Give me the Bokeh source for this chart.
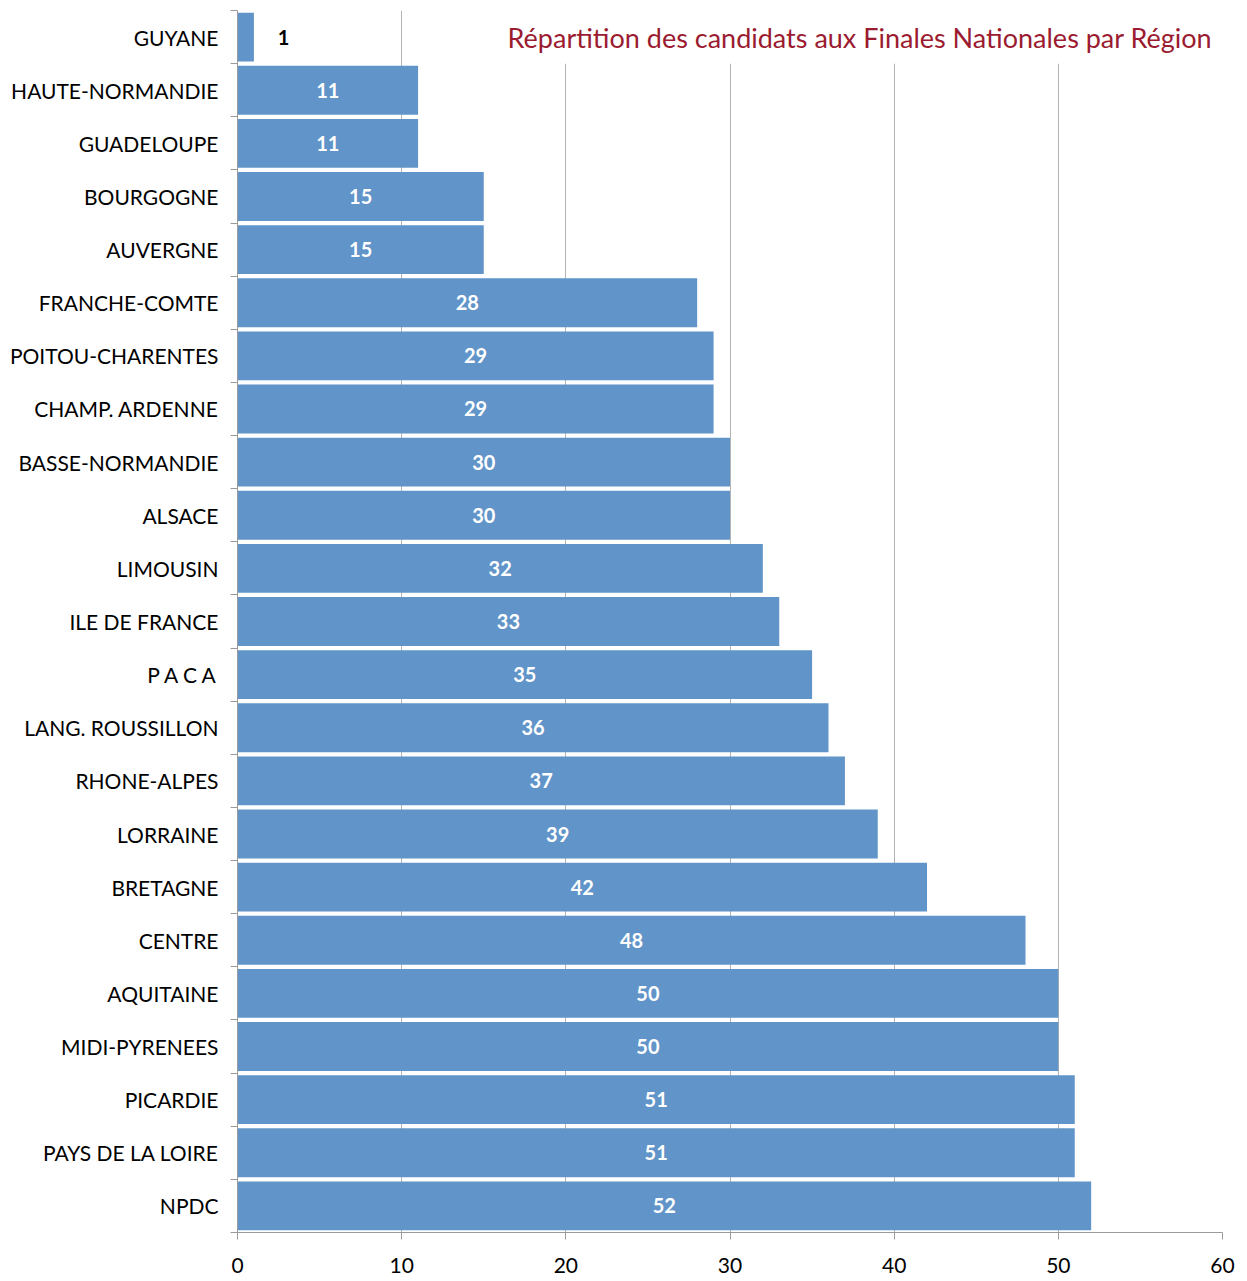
from bokeh.plotting import figure
from bokeh.models import ColumnDataSource, FixedTicker, Range1d, Label, BoxAnnotation
from bokeh.embed import file_html
from bokeh.resources import INLINE
from bokeh.core.properties import value

regions = ["GUYANE", "HAUTE-NORMANDIE", "GUADELOUPE", "BOURGOGNE", "AUVERGNE",
           "FRANCHE-COMTE", "POITOU-CHARENTES", "CHAMP. ARDENNE", "BASSE-NORMANDIE",
           "ALSACE", "LIMOUSIN", "ILE DE FRANCE", "P A C A", "LANG. ROUSSILLON",
           "RHONE-ALPES", "LORRAINE", "BRETAGNE", "CENTRE", "AQUITAINE",
           "MIDI-PYRENEES", "PICARDIE", "PAYS DE LA LOIRE", "NPDC"]
counts = [1, 11, 11, 15, 15, 28, 29, 29, 30, 30, 32, 33, 35, 36, 37, 39, 42, 48,
          50, 50, 51, 51, 52]
x_ticks = [0, 10, 20, 30, 40, 50, 60]
title_text = "Répartition des candidats aux Finales Nationales par Région"

n = len(regions)
ypos = [n - i - 0.5 for i in range(n)]

lab_x = [c / 2 if c >= 5 else c + 1.8 for c in counts]
lab_col = ["white" if c >= 5 else "black" for c in counts]
src = ColumnDataSource(dict(y=ypos, v=counts, name=regions, lx=lab_x,
                            lc=lab_col, txt=[str(c) for c in counts]))

p = figure(width=1247, height=1281, x_range=Range1d(0, 60), y_range=Range1d(0, n),
           output_backend="svg", toolbar_location=None,
           min_border_left=237, min_border_right=25, min_border_top=10,
           min_border_bottom=49)
p.outline_line_color = None
p.background_fill_color = "white"
p.border_fill_color = "white"

p.hbar(y="y", right="v", left=0, height=0.92, source=src,
       fill_color="#6194C8", line_color=None)
p.text(x="lx", y="y", text="txt", text_color="lc", source=src,
       text_font=value("Lato"), text_font_size="20px", text_font_style="bold",
       text_align="center", text_baseline="middle")

# grid
p.ygrid.grid_line_color = None
p.xgrid.ticker = FixedTicker(ticks=x_ticks)
p.xgrid.grid_line_color = "#b4b4b4"
p.xgrid.grid_line_width = 1

# x axis
xa = p.xaxis[0]
xa.ticker = FixedTicker(ticks=x_ticks)
xa.axis_line_color = "#9a9a9a"
xa.major_tick_line_color = "#9a9a9a"
xa.major_tick_out = 7
xa.major_tick_in = 0
xa.minor_tick_line_color = None
xa.major_label_text_font = "Lato"
xa.major_label_text_font_size = "21px"
xa.major_label_text_color = "black"
xa.major_label_standoff = 18

# y axis
ya = p.yaxis[0]
ya.ticker = FixedTicker(ticks=ypos, minor_ticks=list(range(n + 1)))
ya.major_label_overrides = {y: r for y, r in zip(ypos, regions)}
ya.axis_line_color = "#9a9a9a"
ya.major_tick_line_color = None
ya.major_tick_out = 0
ya.major_tick_in = 0
ya.minor_tick_line_color = "#9a9a9a"
ya.minor_tick_out = 7
ya.minor_tick_in = 0
ya.major_label_text_font = "Lato"
ya.major_label_text_font_size = "21px"
ya.major_label_text_color = "black"
ya.major_label_standoff = 12

# title box covering the gridlines
box = BoxAnnotation(left=16.4, right=61, bottom=n - 1, top=n + 1,
                    fill_color="white", fill_alpha=1.0, line_color=None)
p.add_layout(box)
title = Label(x=16.45, y=n - 0.5, text=title_text, text_font="Lato",
              text_font_size="27px", text_color="#9B1B30", text_baseline="middle",
              text_align="left")
p.add_layout(title)

open("out.html", "w").write(file_html(p, INLINE))
